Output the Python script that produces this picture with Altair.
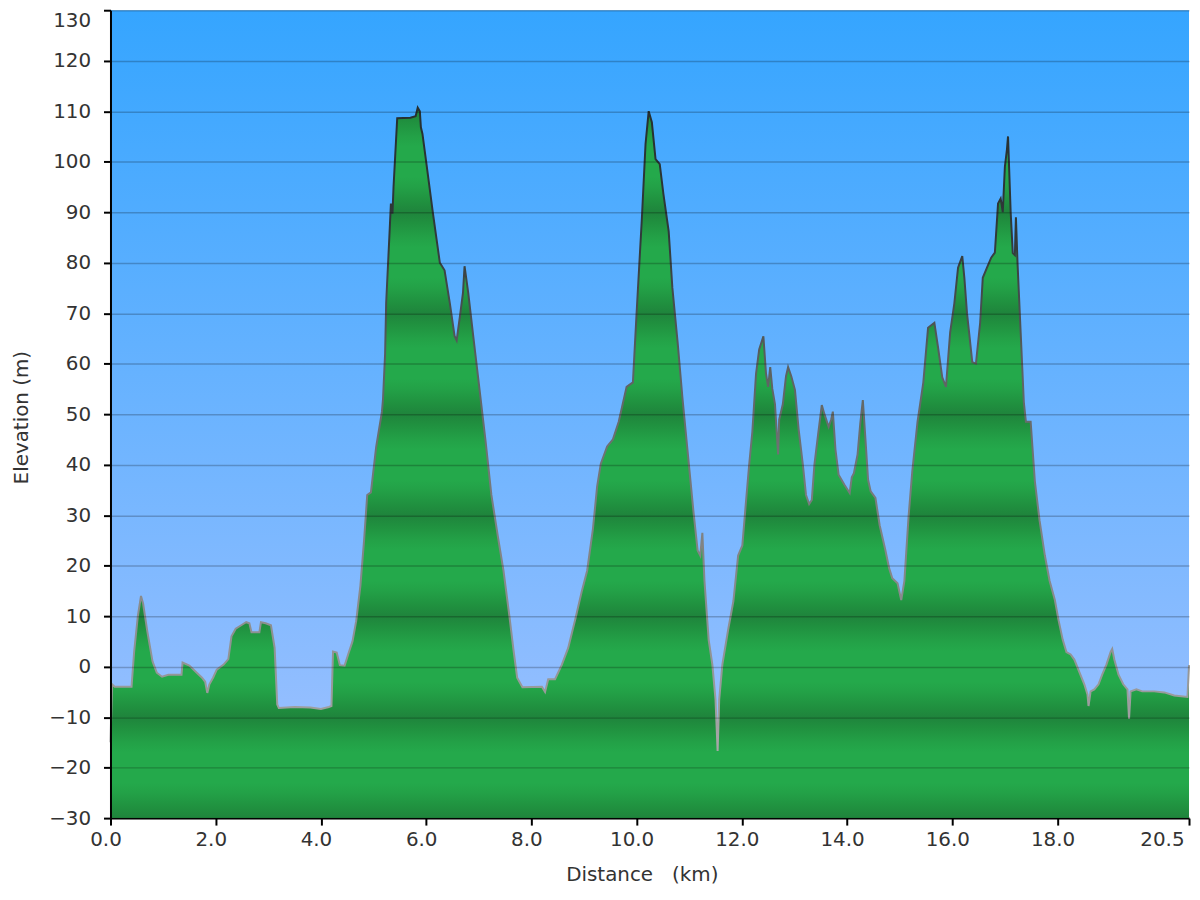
import altair as alt
import pandas as pd

# ---- data ----
km = [0.00, 0.03, 0.08, 0.40, 0.45, 0.52, 0.58, 0.62, 0.70, 0.80, 0.88, 0.98, 1.10, 1.35, 1.37,
      1.50, 1.62, 1.74, 1.80, 1.84, 1.88, 1.95, 2.02, 2.15, 2.24, 2.30, 2.38, 2.50, 2.58, 2.64,
      2.68, 2.83, 2.86, 2.95, 3.05, 3.12, 3.17, 3.20, 3.50, 3.80, 4.00, 4.15, 4.20, 4.23, 4.30,
      4.36, 4.45, 4.52, 4.60, 4.67, 4.75, 4.82, 4.88, 4.95, 5.05, 5.16, 5.18, 5.22, 5.24, 5.30,
      5.33, 5.36, 5.38, 5.45, 5.70, 5.80, 5.84, 5.88, 5.90, 5.93, 6.00, 6.13, 6.26, 6.35, 6.45,
      6.54, 6.58, 6.65, 6.70, 6.73, 6.80, 6.90, 7.02, 7.13, 7.24, 7.36, 7.47, 7.58, 7.66, 7.73,
      7.83, 8.20, 8.26, 8.32, 8.45, 8.58, 8.70, 8.83, 8.96, 9.06, 9.17, 9.25, 9.32, 9.44, 9.55,
      9.66, 9.81, 9.93, 10.00, 10.10, 10.17, 10.23, 10.29, 10.36, 10.44, 10.51, 10.61, 10.68, 10.78, 10.87,
      10.97, 11.08, 11.16, 11.21, 11.25, 11.29, 11.37, 11.44, 11.50, 11.54, 11.57, 11.63, 11.74, 11.84, 11.93,
      12.01, 12.08, 12.14, 12.20, 12.27, 12.33, 12.41, 12.46, 12.50, 12.54, 12.58, 12.63, 12.69, 12.71, 12.78,
      12.84, 12.88, 12.94, 13.01, 13.08, 13.16, 13.22, 13.28, 13.33, 13.38, 13.45, 13.52, 13.57, 13.65, 13.70,
      13.73, 13.78, 13.84, 13.95, 14.05, 14.09, 14.13, 14.20, 14.25, 14.30, 14.35, 14.40, 14.45, 14.54, 14.62,
      14.73, 14.80, 14.86, 14.96, 15.03, 15.09, 15.17, 15.24, 15.34, 15.45, 15.54, 15.66, 15.73, 15.81, 15.88,
      15.96, 16.04, 16.11, 16.19, 16.23, 16.28, 16.32, 16.38, 16.45, 16.53, 16.58, 16.66, 16.74, 16.81, 16.87,
      16.92, 16.96, 17.00, 17.04, 17.06, 17.08, 17.11, 17.15, 17.19, 17.21, 17.24, 17.30, 17.36, 17.40, 17.49,
      17.57, 17.66, 17.76, 17.85, 17.95, 18.02, 18.10, 18.17, 18.25, 18.32, 18.42, 18.51, 18.57, 18.59, 18.63,
      18.70, 18.78, 18.85, 18.93, 19.01, 19.04, 19.08, 19.16, 19.25, 19.33, 19.36, 19.39, 19.50, 19.61, 19.84,
      20.03, 20.22, 20.47, 20.50]
elev = [-15.0, -3.5, -4.0, -4.0, 3.0, 10.0, 14.0, 12.5, 7.0, 1.0, -1.2, -2.0, -1.6, -1.6, 0.8,
        0.2, -1.0, -2.2, -3.0, -5.2, -3.5, -2.2, -0.6, 0.4, 1.5, 6.0, 7.5, 8.3, 8.8, 8.6,
        6.8, 6.8, 8.8, 8.6, 8.2, 3.7, -7.5, -8.2, -8.0, -8.1, -8.4, -8.0, -7.8, 3.0, 2.8,
        0.3, 0.2, 2.5, 5.0, 9.0, 16.0, 25.0, 34.0, 34.5, 43.5, 50.5, 53.0, 62.0, 72.0, 85.0,
        91.7, 89.7, 95.0, 108.6, 108.7, 109.0, 110.7, 110.0, 106.8, 105.5, 100.0, 89.7, 80.0, 78.5, 72.0,
        65.5, 64.6, 70.0, 74.0, 79.3, 74.0, 65.0, 54.4, 44.6, 34.0, 26.0, 19.0, 10.2, 3.3, -2.2,
        -4.1, -4.0, -5.0, -2.5, -2.5, 0.4, 3.7, 9.2, 15.0, 19.0, 27.3, 35.7, 40.2, 43.6, 45.0,
        48.5, 55.4, 56.3, 70.0, 88.7, 103.5, 110.0, 107.8, 100.5, 99.5, 93.6, 86.2, 75.0, 64.2, 53.4,
        42.6, 30.8, 23.0, 22.0, 26.5, 17.0, 5.3, 0.4, -6.5, -16.7, -6.5, 0.4, 7.3, 13.0, 22.0,
        24.0, 32.8, 40.0, 46.5, 58.0, 62.8, 65.4, 58.0, 55.4, 59.3, 55.0, 52.0, 42.0, 48.9, 52.0,
        57.5, 59.3, 57.5, 54.8, 47.0, 40.0, 34.0, 32.2, 33.0, 40.0, 46.0, 51.8, 50.0, 47.5, 49.0,
        50.5, 43.0, 38.0, 36.0, 34.4, 37.5, 38.3, 42.0, 48.0, 52.8, 45.0, 37.0, 34.7, 33.4, 28.0,
        23.0, 19.5, 17.5, 16.5, 13.2, 17.0, 29.8, 38.7, 48.5, 56.3, 67.1, 68.1, 63.2, 57.3, 55.4,
        66.2, 72.0, 79.0, 81.3, 77.0, 70.0, 66.2, 60.3, 60.0, 68.1, 77.0, 79.0, 81.0, 82.0, 91.7,
        92.7, 90.0, 99.0, 102.5, 105.0, 99.0, 90.0, 81.9, 81.5, 89.0, 80.0, 66.2, 52.4, 48.5, 48.5,
        36.7, 28.9, 22.0, 17.0, 13.2, 9.2, 5.3, 2.9, 2.4, 1.4, -1.2, -3.5, -5.5, -7.8, -4.9,
        -4.5, -3.5, -1.6, 0.4, 2.9, 3.5, 1.4, -1.6, -3.5, -4.5, -10.3, -4.9, -4.5, -4.9, -4.9,
        -5.1, -5.7, -6.0, 0.3]

x_ticks = [0, 2, 4, 6, 8, 10, 12, 14, 16, 18, 20.5]
y_ticks = list(range(-30, 131, 10))
x_domain = [0, 20.5]
y_domain = [-30, 130]

W, H = 1084, 812
FONT = "DejaVu Sans"
TXT = "#333333"

df = pd.DataFrame({"km": km, "elev": elev})
bg_df = pd.DataFrame({"x0": [x_domain[0]], "x1": [x_domain[1]],
                      "y0": [y_domain[0]], "y1": [y_domain[1]]})

# ---- green banded fill: gradient expressed in data values ----
# darkest at odd tens, broad light part around even tens
band_profile = [(0.0, "#1f843c"), (2.0, "#20903f"), (5.0, "#23a147"), (7.0, "#24a94b"), (10.0, "#24a94b")]
top = max(elev)
base = y_domain[0]
pairs = []
for ten in range(base, 140, 20):  # odd tens: -30, -10, 10, ...
    for d, c in band_profile:
        for v in (ten + d, ten - d):
            if base <= v <= top:
                pairs.append(((top - v) / (top - base), c))
pairs.append((0.0, "#1f843c"))
pairs = sorted(set((round(o, 5), c) for o, c in pairs))
fill_stops = [alt.GradientStop(color=c, offset=o) for o, c in pairs]
green = alt.Gradient(gradient="linear", stops=fill_stops, x1=0, x2=0, y1=0, y2=1)

# ---- outline: dark near the peaks, grey near the bottom ----
lt, lb = max(elev), min(elev)
line_levels = [(110, "#263030"), (85, "#30393a"), (60, "#5a6060"), (30, "#7c7f80"), (0, "#939596"), (-20, "#a8a8a8")]
line_stops = []
for v, c in line_levels:
    off = min(1.0, max(0.0, (lt - v) / (lt - lb)))
    line_stops.append(alt.GradientStop(color=c, offset=round(off, 5)))
outline = alt.Gradient(gradient="linear", stops=line_stops, x1=0, x2=0, y1=0, y2=1)

sky = alt.Gradient(gradient="linear",
                   stops=[alt.GradientStop(color="#35a5ff", offset=0),
                          alt.GradientStop(color="#a2c2ff", offset=1)],
                   x1=0, x2=0, y1=0, y2=1)

xscale = alt.Scale(domain=x_domain, nice=False, zero=False)
yscale = alt.Scale(domain=y_domain, nice=False, zero=False)

x_axis = alt.Axis(
    values=x_ticks, format=".1f", title="Distance\u00a0\u00a0\u00a0(km)",
    labelFont=FONT, labelFontSize=20, labelColor=TXT, labelPadding=5, labelOffset=-5,
    labelFlush=False,
    labelAlign={"condition": {"test": "datum.value >= 20.5", "value": "right"}, "value": "center"},
    tickColor="black", tickWidth=2, tickSize=7, domainColor="black", domainWidth=2,
    grid=False, titleFont=FONT, titleFontSize=20, titleFontWeight="normal", titleColor=TXT,
    titleX=534, titleY=57, titleBaseline="middle", titleAlign="center",
)
y_axis = alt.Axis(
    values=y_ticks, format="d", title="Elevation (m)",
    labelFont=FONT, labelFontSize=20, labelColor=TXT, labelPadding=13,
    labelBaseline={"condition": {"test": "datum.value >= 130", "value": "top"}, "value": "middle"},
    tickColor="black", tickWidth=2, tickSize=7, domainColor="black", domainWidth=2,
    grid=True, gridColor="black", gridOpacity=0.22, gridWidth=1.5, zindex=1,
    titleFont=FONT, titleFontSize=20, titleFontWeight="normal", titleColor=TXT,
    titleX=-89, titleY=H / 2 + 3, titleBaseline="middle", titleAlign="center", titleAngle=-90,
)

bg = alt.Chart(bg_df).mark_rect(color=sky).encode(
    x=alt.X("x0:Q", scale=xscale, axis=x_axis),
    x2="x1",
    y=alt.Y("y1:Q", scale=yscale, axis=y_axis),
    y2="y0",
)

area = alt.Chart(df).mark_area(color=green, strokeWidth=0).encode(
    x=alt.X("km:Q", scale=xscale, axis=x_axis),
    y=alt.Y("elev:Q", scale=yscale, axis=y_axis),
    y2=alt.datum(base),
)

line = alt.Chart(df).mark_line(stroke=outline, strokeWidth=2).encode(
    x=alt.X("km:Q", scale=xscale, axis=x_axis),
    y=alt.Y("elev:Q", scale=yscale, axis=y_axis),
)

chart = alt.layer(bg, area, line).properties(
    width=W, height=H,
    autosize=alt.AutoSizeParams(type="none"),
    padding={"left": 103, "top": 0, "right": 3, "bottom": 65},
    background="white",
).configure_view(stroke=None)

chart.save("out.html", embed_options={"renderer": "svg", "actions": False})
